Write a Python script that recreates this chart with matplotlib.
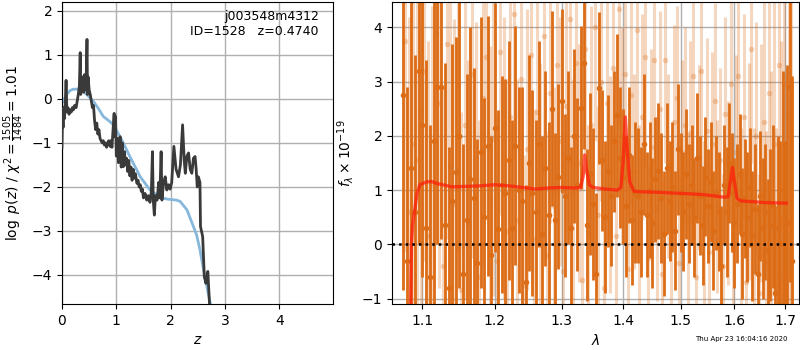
import matplotlib
matplotlib.use("Agg")
import matplotlib.pyplot as plt
from matplotlib.ticker import NullLocator, FixedLocator, FixedFormatter

# --- p(z) panel -----------------------------------------------------------
PZ_Z = [0.00, 0.01, 0.02, 0.03, 0.045, 0.06, 0.075, 0.09, 0.11, 0.13,
        0.15, 0.17, 0.19, 0.21, 0.23, 0.26, 0.28, 0.30, 0.32, 0.335,
        0.345, 0.36, 0.37, 0.385, 0.40, 0.415, 0.43, 0.445, 0.46, 0.47,
        0.48, 0.50, 0.52, 0.54, 0.56, 0.58, 0.60, 0.62, 0.64, 0.66,
        0.68, 0.70, 0.72, 0.74, 0.76, 0.78, 0.80, 0.82, 0.84, 0.86,
        0.885, 0.90, 0.92, 0.94, 0.96, 0.97, 0.985, 1.00, 1.02, 1.04,
        1.07, 1.09, 1.11, 1.13, 1.15, 1.17, 1.19, 1.21, 1.23, 1.25,
        1.27, 1.29, 1.31, 1.33, 1.35, 1.38, 1.40, 1.42, 1.44, 1.46,
        1.48, 1.50, 1.53, 1.56, 1.59, 1.62, 1.645, 1.665, 1.68, 1.70,
        1.72, 1.75, 1.78, 1.80, 1.825, 1.84, 1.87, 1.90, 1.93, 1.96,
        1.99, 2.02, 2.06, 2.10, 2.145, 2.18, 2.22, 2.25, 2.27, 2.30,
        2.33, 2.36, 2.39, 2.42, 2.45, 2.47, 2.49, 2.51, 2.54, 2.55,
        2.59, 2.62, 2.65, 2.685, 2.715]
PZ_LOGP = [-1.10, -0.30, -0.65, -0.20, -0.45, -0.10, 0.42, -0.30, -0.20, -0.35,
           -0.25, -0.30, -0.20, -0.25, -0.15, -0.20, -0.05, 0.10, 0.30, 1.05,
           0.10, 0.45, 0.20, 0.50, 0.15, 0.55, 0.20, 0.40, 1.35, 0.10,
           0.50, 0.20, 0.10, -0.05, -0.20, -0.15, -0.50, -0.70, -0.55, -0.80,
           -0.70, -0.90, -0.95, -1.00, -0.95, -1.05, -1.00, -1.10, -1.00, -0.95,
           -1.08, -0.95, -1.10, -0.70, -0.33, -0.85, -0.40, -1.30, -0.90, -1.45,
           -0.86, -1.55, -1.00, -1.54, -1.20, -1.50, -1.35, -1.65, -1.40, -1.75,
           -1.55, -1.85, -1.60, -1.80, -1.70, -1.92, -1.85, -2.00, -1.95, -2.10,
           -2.05, -2.25, -2.15, -2.30, -2.20, -2.35, -2.10, -1.20, -2.30, -2.64,
           -2.20, -2.30, -1.90, -2.25, -1.20, -2.30, -1.90, -1.77, -2.07, -1.95,
           -2.05, -1.90, -1.08, -1.60, -1.77, -1.50, -0.59, -1.40, -1.69, -1.30,
           -1.23, -1.60, -1.69, -1.35, -1.31, -1.60, -2.00, -1.77, -1.90, -2.90,
           -3.13, -4.04, -4.19, -3.92, -4.64]

PRIOR_Z = [0.00, 0.05, 0.10, 0.15, 0.21, 0.30, 0.39, 0.48, 0.58, 0.67,
           0.76, 0.885, 0.945, 1.07, 1.25, 1.44, 1.62, 1.81, 1.95, 2.11,
           2.175, 2.30, 2.42, 2.48, 2.54, 2.63, 2.73, 2.76]
PRIOR_LOGP = [-0.10, 0.02, 0.12, 0.19, 0.22, 0.22, 0.17, 0.07, -0.06, -0.22,
              -0.40, -0.52, -0.59, -0.86, -1.31, -1.77, -2.07, -2.24, -2.28, -2.30,
              -2.33, -2.52, -2.90, -3.10, -3.43, -4.04, -4.64, -4.80]

# --- spectrum panel -------------------------------------------------------
WAVE_A = [1.075, 1.080, 1.085, 1.090, 1.095, 1.100, 1.105, 1.110, 1.115, 1.120,
          1.125, 1.130, 1.135, 1.140, 1.145, 1.150, 1.155, 1.160, 1.165, 1.170,
          1.175, 1.180, 1.185, 1.190, 1.195, 1.200, 1.205, 1.210, 1.215, 1.220,
          1.225, 1.230, 1.235, 1.240, 1.245, 1.250, 1.255, 1.260, 1.265, 1.270,
          1.275, 1.280, 1.285, 1.290, 1.295, 1.300, 1.305, 1.310, 1.315, 1.320,
          1.325, 1.330, 1.335, 1.340, 1.345, 1.350, 1.355, 1.360, 1.365, 1.370,
          1.375, 1.380, 1.385, 1.390, 1.395, 1.400, 1.405, 1.410, 1.415, 1.420,
          1.425, 1.430, 1.435, 1.440, 1.445, 1.450, 1.455, 1.460, 1.465, 1.470,
          1.475, 1.480, 1.485, 1.490, 1.495, 1.500, 1.505, 1.510, 1.515, 1.520,
          1.525, 1.530, 1.535, 1.540, 1.545, 1.550, 1.555, 1.560, 1.565, 1.570,
          1.575, 1.580, 1.585, 1.590, 1.595, 1.600, 1.605, 1.610, 1.615, 1.620,
          1.625, 1.630, 1.635, 1.640, 1.645, 1.650, 1.655, 1.660, 1.665, 1.670,
          1.675, 1.680, 1.685, 1.690, 1.695, 1.700, 1.705, 1.710, 1.715]
FLUX_A = [2.75, -0.30, 1.40, 0.60, 3.20, 2.20, 0.30, -0.60, 1.90, 2.90,
          2.90, 0.35, -0.80, 0.80, 1.33, 2.00, -0.55, 0.45, 1.20, 0.85,
          -0.35, 1.70, 0.50, 1.82, -0.20, 2.15, 0.28, 1.10, 0.95, 1.55,
          0.30, 1.82, 1.00, 0.80, -0.70, 1.50, 0.95, 0.60, 1.85, 0.20,
          1.40, 0.55, 2.50, 0.45, 1.25, 2.65, 0.90, 1.60, 0.30, 2.00,
          1.10, 2.52, 3.35, 0.35, 1.30, 0.75, -0.55, 2.88, 1.55, 0.50,
          1.35, 0.90, 1.90, 2.38, 1.60, 1.25, 0.70, 1.65, 0.45, 0.95,
          0.90, 0.60, 1.85, 0.55, 1.00, 0.40, 1.20, 1.35, 0.85, 0.20,
          1.40, 0.80, 1.05, 0.25, 1.75, 0.95, 0.60, 1.30, 0.75, 1.10,
          0.50, 1.60, 0.90, 0.35, 1.25, 0.70, 1.15, 0.25, 0.95, 0.60,
          -0.40, 1.10, 0.60, 1.50, 0.95, 0.40, 0.75, 1.30, 0.20, 0.85,
          0.50, 1.05, 0.15, 0.65, -0.55, 0.90, 0.30, 0.60, -0.10, 0.35,
          0.70, -0.90, 0.30, 0.00, 1.00, -0.60, 0.40, 2.90, -0.30]
ERR_A = [3.6, 3.2, 3.4, 2.9, 3.2, 2.8, 3.1, 2.8, 3.3, 2.9,
         2.8, 3.0, 2.6, 2.9, 2.5, 2.8, 2.4, 2.7, 2.8, 2.4,
         2.3, 2.5, 2.2, 2.4, 2.2, 2.3, 2.2, 2.0, 2.1, 2.2,
         2.0, 2.2, 1.9, 2.1, 1.8, 2.0, 1.9, 1.7, 1.9, 1.8,
         1.8, 1.7, 1.8, 1.6, 1.7, 1.7, 1.5, 1.6, 1.5, 1.6,
         1.6, 1.5, 1.6, 1.4, 1.5, 1.4, 1.5, 1.4, 1.3, 1.4,
         1.4, 1.3, 1.3, 1.5, 1.3, 1.25, 1.3, 1.25, 1.2, 1.3,
         1.25, 1.2, 1.3, 1.15, 1.25, 1.2, 1.15, 1.25, 1.2, 1.15,
         1.2, 1.1, 1.2, 1.1, 1.2, 1.1, 1.1, 1.2, 1.1, 1.1,
         1.1, 1.2, 1.1, 1.1, 1.1, 1.05, 1.1, 1.1, 1.05, 1.1,
         1.1, 1.1, 1.2, 1.1, 1.1, 1.2, 1.1, 1.1, 1.2, 1.1,
         1.2, 1.1, 1.2, 1.2, 1.3, 1.2, 1.3, 1.25, 1.3, 1.4,
         1.5, 1.6, 1.7, 1.9, 2.2, 2.5, 2.9, 3.6, 3.4]

WAVE_B = [1.0775, 1.0825, 1.0875, 1.0925, 1.0975, 1.1025, 1.1075, 1.1125, 1.1175, 1.1225,
          1.1275, 1.1325, 1.1375, 1.1425, 1.1475, 1.1525, 1.1575, 1.1625, 1.1675, 1.1725,
          1.1775, 1.1825, 1.1875, 1.1925, 1.1975, 1.2025, 1.2075, 1.2125, 1.2175, 1.2225,
          1.2275, 1.2325, 1.2375, 1.2425, 1.2475, 1.2525, 1.2575, 1.2625, 1.2675, 1.2725,
          1.2775, 1.2825, 1.2875, 1.2925, 1.2975, 1.3025, 1.3075, 1.3125, 1.3175, 1.3225,
          1.3275, 1.3325, 1.3375, 1.3425, 1.3475, 1.3525, 1.3575, 1.3625, 1.3675, 1.3725,
          1.3775, 1.3825, 1.3875, 1.3925, 1.3975, 1.4025, 1.4075, 1.4125, 1.4175, 1.4225,
          1.4275, 1.4325, 1.4375, 1.4425, 1.4475, 1.4525, 1.4575, 1.4625, 1.4675, 1.4725,
          1.4775, 1.4825, 1.4875, 1.4925, 1.4975, 1.5025, 1.5075, 1.5125, 1.5175, 1.5225,
          1.5275, 1.5325, 1.5375, 1.5425, 1.5475, 1.5525, 1.5575, 1.5625, 1.5675, 1.5725,
          1.5775, 1.5825, 1.5875, 1.5925, 1.5975, 1.6025, 1.6075, 1.6125, 1.6175, 1.6225,
          1.6275, 1.6325, 1.6375, 1.6425, 1.6475, 1.6525, 1.6575, 1.6625, 1.6675, 1.6725,
          1.6775, 1.6825, 1.6875, 1.6925, 1.6975, 1.7025, 1.7075, 1.7125]
FLUX_B = [3.75, 0.60, 1.85, 1.55, 2.50, 3.20, 0.15, 1.10, 3.90, 2.60,
          -0.40, 3.70, 1.45, 0.75, 2.95, -0.85, 2.20, 0.40, 3.15, 1.20,
          -0.60, 2.70, 3.45, 0.85, 1.95, -0.30, 3.55, 1.60, 0.25, 2.35,
          4.25, 0.45, 3.05, -0.75, 1.75, 3.50, 0.10, 2.45, 1.05, 3.85,
          -0.20, 2.80, 0.70, 3.30, 1.90, -0.50, 2.55, 4.15, 0.95, 3.35,
          1.50, -0.65, 3.60, 0.20, 2.20, 4.00, 0.55, 3.00, -0.80, 2.60,
          1.10, 3.25, 0.15, 4.35, 2.00, 3.15, -0.45, 2.75, 1.35, 3.95,
          0.40, 2.35, 3.45, -0.25, 1.80, 3.40, 0.65, 2.50, -0.55, 3.40,
          1.45, 0.10, 2.25, 2.70, -0.35, 1.70, 2.20, 0.45, 2.05, 3.10,
          -0.60, 1.60, 3.20, 0.30, 2.10, -0.15, 1.85, 2.65, 0.70, 1.55,
          -0.40, 2.40, 0.95, 2.95, -0.10, 1.70, 3.10, 0.35, 2.35, -0.70,
          1.35, 3.60, 0.15, 2.00, -0.90, 1.50, 2.25, -0.30, 2.80, 0.60,
          1.85, -0.75, 3.30, 0.45, 2.95, -0.55, 2.40, 0.90]
ERR_B = [3.9, 3.6, 3.8, 3.4, 3.7, 3.5, 3.6, 3.3, 3.8, 3.4,
         3.3, 3.6, 3.2, 3.4, 3.1, 3.3, 3.2, 3.0, 3.4, 2.9,
         2.9, 3.1, 3.0, 2.8, 2.9, 2.7, 3.0, 2.6, 2.8, 2.7,
         2.7, 2.6, 2.8, 2.4, 2.6, 2.5, 2.4, 2.5, 2.3, 2.6,
         2.3, 2.4, 2.2, 2.4, 2.3, 2.2, 2.3, 2.4, 2.1, 2.3,
         2.2, 2.1, 2.3, 2.0, 2.2, 2.1, 2.0, 2.2, 1.9, 2.1,
         2.0, 2.1, 1.9, 2.2, 2.0, 2.0, 1.9, 2.0, 1.8, 2.1,
         1.8, 1.9, 2.0, 1.7, 1.8, 1.9, 1.7, 1.8, 1.7, 1.9,
         1.7, 1.6, 1.8, 1.7, 1.6, 1.7, 1.8, 1.6, 1.7, 1.8,
         1.6, 1.7, 1.8, 1.6, 1.7, 1.6, 1.7, 1.8, 1.6, 1.7,
         1.7, 1.8, 1.7, 1.8, 1.7, 1.8, 1.9, 1.8, 1.9, 1.9,
         2.0, 2.1, 2.0, 2.1, 2.2, 2.2, 2.3, 2.4, 2.5, 2.6,
         2.8, 2.9, 3.1, 3.3, 3.5, 3.7, 3.9, 4.0]

MODEL_WAVE = [1.0840, 1.0855, 1.0870, 1.0899, 1.0930, 1.0967, 1.1050, 1.1120, 1.1200, 1.1400,
              1.1600, 1.1800, 1.2000, 1.2200, 1.2400, 1.2600, 1.2800, 1.3000, 1.3200, 1.3300,
              1.3340, 1.3366, 1.3400, 1.3440, 1.3500, 1.3700, 1.3900, 1.3960, 1.4000, 1.4034,
              1.4070, 1.4110, 1.4180, 1.4300, 1.4600, 1.5000, 1.5400, 1.5800, 1.5880, 1.5920,
              1.5960, 1.6000, 1.6050, 1.6120, 1.6300, 1.6600, 1.7030]
MODEL_FLUX = [-1.60, 0.00, 0.35, 0.65, 0.95, 1.10, 1.15, 1.16, 1.12, 1.06,
              1.07, 1.08, 1.10, 1.08, 1.05, 1.02, 1.04, 1.05, 1.04, 1.05,
              1.25, 1.65, 1.35, 1.10, 1.05, 1.02, 1.00, 1.05, 1.55, 2.35,
              1.70, 1.15, 0.98, 0.97, 0.96, 0.94, 0.92, 0.87, 0.88, 1.15,
              1.42, 1.15, 0.85, 0.80, 0.79, 0.77, 0.76]

WAVE_TICKS = [1.1, 1.2, 1.3, 1.4, 1.5, 1.6, 1.7]

ORANGE = "#dc6c16"

fig = plt.figure(figsize=(8, 3.5), dpi=100)
ax1 = fig.add_axes([0.0775, 0.1314, 0.3388, 0.8629])
ax2 = fig.add_axes([0.49, 0.1314, 0.5088, 0.8629])

# p(z)
ax1.plot(PRIOR_Z, PRIOR_LOGP, color="#87b8dc", lw=2, zorder=2)
ax1.plot(PZ_Z, PZ_LOGP, color="#3a3a3a", lw=2, zorder=3)
ax1.set_xlim(0, 4.99)
ax1.set_ylim(-4.66, 2.2)
ax1.set_xticks([0, 1, 2, 3, 4])
ax1.set_yticks([-4, -3, -2, -1, 0, 1, 2])
ax1.grid(color="#b0b0b0", lw=1)
ax1.set_axisbelow(True)
ax1.set_xlabel(r"$z$")
ax1.set_ylabel(r"$\log\ p(z)$ / $\chi^2=\frac{1505}{1484}=1.01$")
ax1.text(0.948, 0.975, "j003548m4312\nID=1528   z=0.4740", transform=ax1.transAxes,
         ha="right", va="top", fontsize=9, linespacing=1.25)

# spectrum
ax2.errorbar(WAVE_B, FLUX_B, yerr=ERR_B, fmt="o", ms=4, color=ORANGE,
             alpha=0.28, elinewidth=2.2, capsize=0, mew=0, zorder=1)
ax2.errorbar(WAVE_A, FLUX_A, yerr=ERR_A, fmt="o", ms=4, color=ORANGE,
             elinewidth=2.0, capsize=0, mew=0, zorder=2)
ax2.plot(MODEL_WAVE, MODEL_FLUX, color="#ff1a0a", alpha=0.7, lw=2.4, zorder=4)
ax2.axhline(0, color="k", ls=":", lw=1.8, zorder=5)
ax2.set_xscale("log")
ax2.set_xlim(1.0605, 1.729)
ax2.set_ylim(-1.1, 4.47)
ax2.xaxis.set_major_locator(FixedLocator(WAVE_TICKS))
ax2.xaxis.set_major_formatter(FixedFormatter([f"{w:.1f}" for w in WAVE_TICKS]))
ax2.xaxis.set_minor_locator(NullLocator())
ax2.set_yticks([-1, 0, 1, 2, 3, 4])
ax2.grid(color="#b0b0b0", lw=1)
ax2.set_axisbelow(True)
ax2.set_xlabel(r"$\lambda$")
ax2.set_ylabel(r"$f_\lambda\times 10^{-19}$")

fig.text(0.984, 0.022, "Thu Apr 23 16:04:16 2020", ha="right", va="bottom", fontsize=5)

fig.savefig("out.png", dpi=100)
